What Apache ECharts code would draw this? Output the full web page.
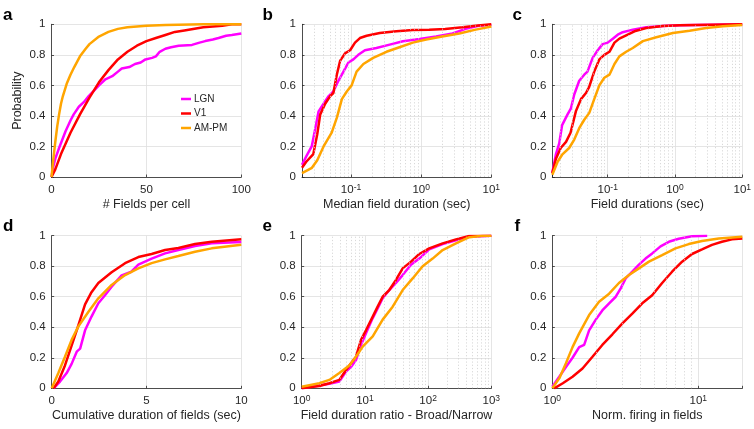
<!DOCTYPE html>
<html><head><meta charset="utf-8">
<script src="https://cdn.jsdelivr.net/npm/echarts@6/dist/echarts.min.js"></script>
<style>html,body{margin:0;padding:0;background:#fff}#c{width:754px;height:429px}</style>
</head><body><div id="c"></div><script>
// ---------- data ----------
const seriesNames = ['LGN', 'V1', 'AM-PM'];
const seriesColors = ['#FF00FF', '#FF0000', '#FFA500'];
const yTicks = [0, 0.2, 0.4, 0.6, 0.8, 1];

// a: # Fields per cell
const aLGN = [[0,0],[1,0.07],[2,0.12],[4,0.19],[7.4,0.3],[10,0.37],[11.7,0.41],[14.4,0.46],[17,0.49],[19.6,0.53],[22,0.56],[25,0.6],[28.4,0.64],[32,0.66],[35,0.69],[37,0.71],[41,0.72],[44,0.74],[47,0.75],[49.5,0.77],[53,0.78],[55,0.79],[57,0.82],[60,0.84],[63,0.85],[67,0.86],[74,0.865],[78,0.88],[81,0.89],[85,0.9],[88,0.91],[92,0.925],[95,0.93],[100,0.94]];
const aV1 = [[0,0],[2,0.05],[5,0.15],[10,0.29],[15,0.41],[20,0.52],[25,0.62],[30,0.7],[35,0.77],[40,0.82],[45,0.86],[50,0.89],[55,0.91],[60,0.93],[65,0.95],[70,0.96],[80,0.98],[90,0.99],[95,1],[100,1]];
const aAMPM = [[0,0],[1,0.12],[2,0.23],[3,0.33],[4,0.41],[5,0.48],[6,0.53],[8,0.61],[10,0.67],[12,0.72],[15,0.79],[18,0.84],[20,0.87],[25,0.92],[30,0.95],[35,0.97],[40,0.98],[50,0.99],[60,0.995],[80,1],[100,1]];

// b: Median field duration (sec)
const bLGN = [[0.02,0.08],[0.023,0.135],[0.0275,0.2],[0.031,0.32],[0.0345,0.43],[0.0406,0.48],[0.048,0.53],[0.056,0.56],[0.066,0.63],[0.078,0.69],[0.092,0.75],[0.108,0.77],[0.127,0.8],[0.158,0.83],[0.23,0.845],[0.356,0.867],[0.55,0.889],[0.95,0.904],[1.63,0.92],[2.8,0.94],[4.3,0.97],[6.6,0.99],[10,0.995]];
const bV1 = [[0.02,0.06],[0.023,0.1],[0.029,0.15],[0.033,0.28],[0.0364,0.41],[0.0428,0.48],[0.0505,0.53],[0.056,0.55],[0.0627,0.67],[0.0698,0.76],[0.082,0.81],[0.097,0.83],[0.114,0.88],[0.134,0.91],[0.167,0.925],[0.257,0.943],[0.443,0.954],[0.762,0.963],[1.3,0.965],[2.2,0.97],[3.9,0.98],[6,0.99],[10,1]];
const bAMPM = [[0.02,0.025],[0.0277,0.06],[0.033,0.11],[0.0406,0.2],[0.053,0.29],[0.063,0.39],[0.074,0.51],[0.087,0.56],[0.102,0.6],[0.12,0.69],[0.15,0.74],[0.207,0.78],[0.32,0.82],[0.49,0.85],[0.76,0.88],[1.18,0.9],[2,0.92],[3.5,0.94],[6,0.965],[10,0.985]];

// c: Field durations (sec)
const cLGN = [[0.015,0.026],[0.017,0.15],[0.019,0.22],[0.021,0.34],[0.0253,0.41],[0.0284,0.45],[0.0318,0.54],[0.0377,0.63],[0.0448,0.67],[0.05,0.69],[0.0597,0.78],[0.071,0.83],[0.084,0.87],[0.1,0.88],[0.119,0.906],[0.141,0.932],[0.167,0.948],[0.236,0.965],[0.374,0.98],[0.66,0.989],[1.17,0.993],[3.7,0.997],[10,1]];
const cV1 = [[0.015,0.026],[0.017,0.12],[0.02,0.19],[0.024,0.23],[0.028,0.29],[0.0336,0.43],[0.04,0.51],[0.0475,0.55],[0.053,0.59],[0.063,0.69],[0.075,0.77],[0.089,0.8],[0.106,0.82],[0.126,0.88],[0.149,0.906],[0.188,0.928],[0.25,0.954],[0.374,0.976],[0.66,0.989],[1.17,0.993],[3.7,0.997],[10,1]];
const cAMPM = [[0.015,0.015],[0.018,0.1],[0.021,0.146],[0.0267,0.19],[0.0318,0.245],[0.0377,0.32],[0.0448,0.375],[0.0532,0.42],[0.063,0.51],[0.075,0.6],[0.089,0.65],[0.106,0.67],[0.126,0.74],[0.149,0.79],[0.188,0.82],[0.236,0.845],[0.333,0.89],[0.527,0.915],[0.93,0.943],[1.65,0.958],[2.9,0.976],[5.2,0.987],[10,0.995]];

// d: Cumulative duration of fields (sec)
const dLGN = [[0.1,0],[0.44,0.044],[0.79,0.1],[1.05,0.16],[1.32,0.24],[1.5,0.26],[1.76,0.38],[2.1,0.47],[2.46,0.557],[2.81,0.61],[3.16,0.666],[3.69,0.74],[4.2,0.764],[4.57,0.81],[5.27,0.85],[5.98,0.884],[6.68,0.906],[7.56,0.932],[8.44,0.95],[10,0.958]];
const dV1 = [[0.1,0],[0.35,0.044],[0.7,0.15],[1.05,0.28],[1.4,0.41],[1.76,0.55],[2.1,0.63],[2.46,0.69],[3.16,0.76],[3.87,0.82],[4.57,0.86],[5.27,0.88],[5.98,0.906],[6.68,0.92],[7.56,0.945],[8.44,0.96],[10,0.976]];
const dAMPM = [[0,0],[0.35,0.1],[0.7,0.207],[1.05,0.317],[1.4,0.404],[1.93,0.5],[2.46,0.59],[3.16,0.677],[3.87,0.742],[4.57,0.786],[5.27,0.82],[5.98,0.845],[6.68,0.867],[7.56,0.895],[8.44,0.917],[10,0.94]];

// e: Field duration ratio - Broad/Narrow
const eLGN = [[1,0],[2.74,0.03],[3.94,0.044],[5.02,0.11],[6.03,0.14],[7.23,0.185],[8.68,0.284],[10.4,0.36],[13.3,0.46],[15.9,0.524],[19.1,0.59],[24.3,0.644],[31,0.69],[39.6,0.742],[53.6,0.81],[72.6,0.85],[104,0.91],[170,0.945],[276,0.97],[448,0.993],[1000,1]];
const eV1 = [[1,0],[1.9,0.015],[2.74,0.033],[3.94,0.055],[5.02,0.12],[6.03,0.164],[7.23,0.207],[8.68,0.317],[10.4,0.38],[13.3,0.47],[15.9,0.535],[19.1,0.6],[24.3,0.644],[31,0.71],[39.6,0.786],[53.6,0.83],[72.6,0.88],[104,0.917],[170,0.95],[276,0.976],[448,0.998],[1000,1]];
const eAMPM = [[1,0.01],[1.9,0.033],[2.74,0.055],[3.94,0.1],[5.67,0.15],[7.23,0.207],[9.22,0.273],[13.3,0.34],[19.1,0.45],[27.5,0.535],[39.6,0.644],[56.9,0.72],[82,0.8],[118,0.85],[170,0.906],[276,0.95],[448,0.99],[728,1],[1000,1]];

// f: Norm. firing in fields
const fLGN = [[1,0.01],[1.116,0.076],[1.24,0.14],[1.376,0.2],[1.528,0.27],[1.652,0.285],[1.787,0.38],[1.985,0.45],[2.2,0.51],[2.45,0.557],[2.72,0.6],[2.94,0.655],[3.18,0.72],[3.53,0.764],[3.92,0.81],[4.35,0.85],[4.83,0.884],[5.51,0.93],[6.28,0.96],[7.34,0.98],[9.05,0.996],[11.5,1]];
const fV1 = [[1.03,0],[1.18,0.033],[1.376,0.076],[1.61,0.13],[1.884,0.207],[2.2,0.284],[2.58,0.354],[3.02,0.426],[3.53,0.49],[4.13,0.557],[4.83,0.61],[5.65,0.69],[6.61,0.764],[7.74,0.83],[9.05,0.88],[10.6,0.91],[12.4,0.94],[14.5,0.96],[17,0.976],[20,0.982]];
const fAMPM = [[1,0],[1.116,0.065],[1.24,0.164],[1.376,0.27],[1.528,0.36],[1.787,0.48],[2.09,0.567],[2.45,0.62],[2.86,0.69],[3.35,0.742],[3.92,0.786],[4.59,0.83],[5.65,0.873],[6.97,0.917],[8.6,0.945],[10.6,0.965],[13.8,0.982],[20,0.993]];

const panelLetters = ['a', 'b', 'c', 'd', 'e', 'f'];
const xNames = ['# Fields per cell', 'Median field duration (sec)', 'Field durations (sec)',
                'Cumulative duration of fields (sec)', 'Field duration ratio - Broad/Narrow', 'Norm. firing in fields'];
const xRanges = [[0, 100], [0.02, 10], [0.015, 10], [0, 10], [1, 1000], [1, 20]];
const xLinearIntervals = [50, null, null, 5, null, null];
const minorMultipliers = [2, 3, 4, 5, 6, 7, 8, 9];
const panelData = [[aLGN, aV1, aAMPM], [bLGN, bV1, bAMPM], [cLGN, cV1, cAMPM],
                   [dLGN, dV1, dAMPM], [eLGN, eV1, eAMPM], [fLGN, fV1, fAMPM]];

// ---------- layout ----------
const FONT = '"Liberation Sans", Arial, Helvetica, sans-serif';
const TXT = '#262626';
const gridBoxes = [
  {left: 51.5, top: 24.3, width: 189.8, height: 152.7},
  {left: 302,  top: 24.3, width: 189.3, height: 152.7},
  {left: 552.3,top: 24.3, width: 190,   height: 152.7},
  {left: 51.7, top: 235.7,width: 189.6, height: 152.6},
  {left: 301.7,top: 235.7,width: 189.6, height: 152.6},
  {left: 552.3,top: 235.7,width: 190,   height: 152.6}
];
const letterPos = [[3, 15.5], [262.5, 15.5], [512.5, 15.5], [3, 226], [262.5, 226], [514.5, 226]];

function logFmt(v) {
  const e = Math.log10(v), r = Math.round(e);
  if (Math.abs(e - r) > 1e-6) return '';
  return '{b|10}{s|' + r + '}';
}
function minorValues(min, max) {
  const out = [];
  for (let d = Math.floor(Math.log10(min)); d < Math.ceil(Math.log10(max)); d++) {
    minorMultipliers.forEach(m => {
      const v = m * Math.pow(10, d);
      if (v > min * 1.0001 && v < max * 0.9999) out.push(v);
    });
  }
  return out;
}

const grid = [], xAxis = [], yAxis = [], series = [], graphic = [];
gridBoxes.forEach((g, i) => {
  grid.push(Object.assign({containLabel: false}, g));
  const isLog = xLinearIntervals[i] === null;
  const ax = {
    gridIndex: i, min: xRanges[i][0], max: xRanges[i][1],
    name: xNames[i], nameLocation: 'middle', nameGap: 21,
    nameTextStyle: {fontFamily: FONT, fontSize: 12.5, color: TXT},
    axisLine: {show: true, onZero: false, lineStyle: {color: '#262626', width: 0.8}},
    axisTick: {show: true, inside: true, length: 2.5, lineStyle: {color: '#262626', width: 0.8}},
    splitLine: {show: true, lineStyle: {color: '#dedede', width: 0.8}},
    axisLabel: {fontFamily: FONT, fontSize: 11.5, color: TXT, margin: 7}
  };
  if (isLog) {
    ax.type = 'log'; ax.logBase = 10;
    ax.axisLabel.formatter = logFmt;
    ax.axisLabel.margin = 6;
    ax.axisLabel.rich = {
      b: {fontFamily: FONT, fontSize: 11.5, color: TXT, lineHeight: 13, padding: [5, 0, 0, 0], verticalAlign: 'bottom'},
      s: {fontFamily: FONT, fontSize: 8.5, color: TXT, lineHeight: 9, verticalAlign: 'top'}
    };
  } else {
    ax.type = 'value'; ax.interval = xLinearIntervals[i];
  }
  xAxis.push(ax);
  yAxis.push({
    type: 'value', gridIndex: i, min: 0, max: 1, interval: 0.2,
    name: i === 0 ? 'Probability' : '', nameLocation: 'middle', nameGap: 27,
    nameTextStyle: {fontFamily: FONT, fontSize: 12.5, color: TXT},
    axisLine: {show: true, onZero: false, lineStyle: {color: '#262626', width: 0.8}},
    axisTick: {show: true, inside: true, length: 2.5, lineStyle: {color: '#262626', width: 0.8}},
    splitLine: {show: true, lineStyle: {color: '#dedede', width: 0.8}},
    axisLabel: {fontFamily: FONT, fontSize: 11.5, color: TXT, margin: 6,
      formatter: v => (yTicks.indexOf(Math.round(v * 10) / 10) >= 0 ? String(Math.round(v * 10) / 10) : '')}
  });
  if (isLog) {
    series.push({
      type: 'line', xAxisIndex: i, yAxisIndex: i, data: [], silent: true, z: 1,
      markLine: {
        silent: true, symbol: ['none', 'none'], label: {show: false}, animation: false,
        lineStyle: {type: [1.2, 2], color: '#cfcfcf', width: 0.8},
        data: minorValues(xRanges[i][0], xRanges[i][1]).map(v => ({xAxis: v}))
      }
    });
  }
  panelData[i].forEach((d, k) => {
    series.push({
      type: 'line', name: seriesNames[k], xAxisIndex: i, yAxisIndex: i, data: d,
      showSymbol: false, symbol: 'none', z: 3 + k,
      lineStyle: {color: seriesColors[k], width: 2.5}, itemStyle: {color: seriesColors[k]}
    });
  });
  graphic.push({
    type: 'text', x: letterPos[i][0], y: letterPos[i][1],
    style: {text: panelLetters[i], font: 'bold 17px ' + FONT, fill: '#000', textAlign: 'left', textVerticalAlign: 'middle'}
  });
});

const chart = echarts.init(document.getElementById('c'), null, {renderer: 'canvas'});
chart.setOption({
  animation: false,
  backgroundColor: '#fff',
  grid, xAxis, yAxis, series, graphic,
  legend: {
    data: seriesNames.map(n => ({name: n, icon: 'rect'})), orient: 'vertical', left: 181, top: 93,
    padding: 0, itemWidth: 10, itemHeight: 2.5, itemGap: 2.5,
    textStyle: {fontFamily: FONT, fontSize: 10, color: TXT, lineHeight: 12, padding: [0, 0, 0, -2]},
    backgroundColor: 'rgba(255,255,255,0)', selectedMode: false
  }
});
</script></body></html>
